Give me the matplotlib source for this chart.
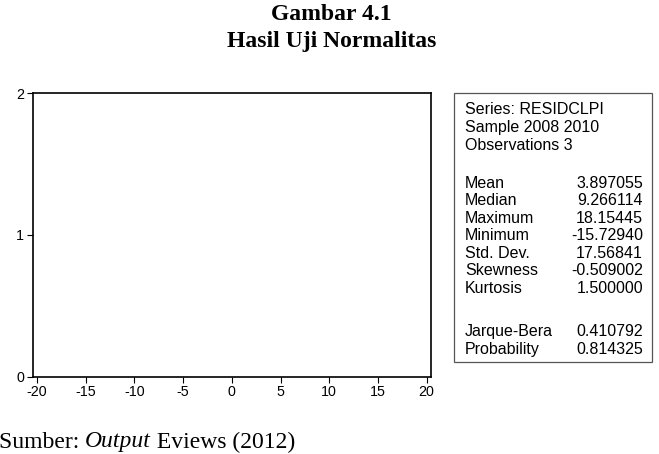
import matplotlib.pyplot as plt
from matplotlib.patches import Rectangle

plt.rcParams['axes.unicode_minus'] = False

# tick values of the histogram axes
x_ticks = [-20, -15, -10, -5, 0, 5, 10, 15, 20]
y_ticks = [0, 1, 2]

# EViews descriptive statistics panel
header = ["Series: RESIDCLPI", "Sample 2008 2010", "Observations 3"]
stat_names = ["Mean", "Median", "Maximum", "Minimum", "Std. Dev.", "Skewness", "Kurtosis"]
stat_values = ["3.897055", "9.266114", "18.15445", "-15.72940", "17.56841", "-0.509002", "1.500000"]
test_names = ["Jarque-Bera", "Probability"]
test_values = ["0.410792", "0.814325"]

W, H = 659, 454
fig = plt.figure(figsize=(W / 100, H / 100), dpi=100)


def fx(px):
    return px / W


def fy(py):
    return 1 - py / H


sans = "Liberation Sans"
serif = "Liberation Serif"

# histogram frame (empty)
ax = fig.add_axes([fx(32.7), fy(376.7), fx(431) - fx(32.7), fy(93.3) - fy(376.7)])
ax.set_xlim(-20.45, 20.45)
ax.set_ylim(0, 2)
ax.set_xticks(x_ticks)
ax.set_yticks(y_ticks)
ax.tick_params(direction="out", length=4.5, width=0.8, labelsize=10.3, pad=1.5)
for lab in ax.get_xticklabels() + ax.get_yticklabels():
    lab.set_fontfamily(sans)
for s in ax.spines.values():
    s.set_linewidth(1.2)

# stats box
box = Rectangle((fx(454.3), fy(361.7)), fx(651.7) - fx(454.3), fy(93.3) - fy(361.7),
                transform=fig.transFigure, fill=False, edgecolor="#555555", linewidth=0.9)
fig.patches.append(box)

fs = 11.5
lx, rx = 465, 643
for i, t in enumerate(header):
    fig.text(fx(lx), fy(110 + i * 17.6), t, fontsize=fs, family=sans, va="center")
for i, (n, v) in enumerate(zip(stat_names, stat_values)):
    y = fy(183.3 + i * 17.5)
    fig.text(fx(lx), y, n, fontsize=fs, family=sans, va="center")
    fig.text(fx(rx), y, v, fontsize=fs, family=sans, va="center", ha="right")
for i, (n, v) in enumerate(zip(test_names, test_values)):
    y = fy(331.7 + i * 17.6)
    fig.text(fx(lx), y, n, fontsize=fs, family=sans, va="center")
    fig.text(fx(rx), y, v, fontsize=fs, family=sans, va="center", ha="right")

# titles and source note
fig.text(fx(331), fy(14), "Gambar 4.1", fontsize=17, family=serif, weight="bold",
         ha="center", va="center")
fig.text(fx(332), fy(42), "Hasil Uji Normalitas", fontsize=17, family=serif, weight="bold",
         ha="center", va="center")

sy = fy(442)
t1 = fig.text(fx(-1), sy, "Sumber: ", fontsize=17, family=serif, va="center")
fig.canvas.draw()
r = fig.canvas.get_renderer()
bb = t1.get_window_extent(r)
t2 = fig.text(bb.x1 / W, sy, "Output", fontsize=17, family=serif, style="italic", va="center")
bb2 = t2.get_window_extent(r)
fig.text(bb2.x1 / W, sy, " Eviews (2012)", fontsize=17, family=serif, va="center")

fig.savefig("out.png", dpi=100)
